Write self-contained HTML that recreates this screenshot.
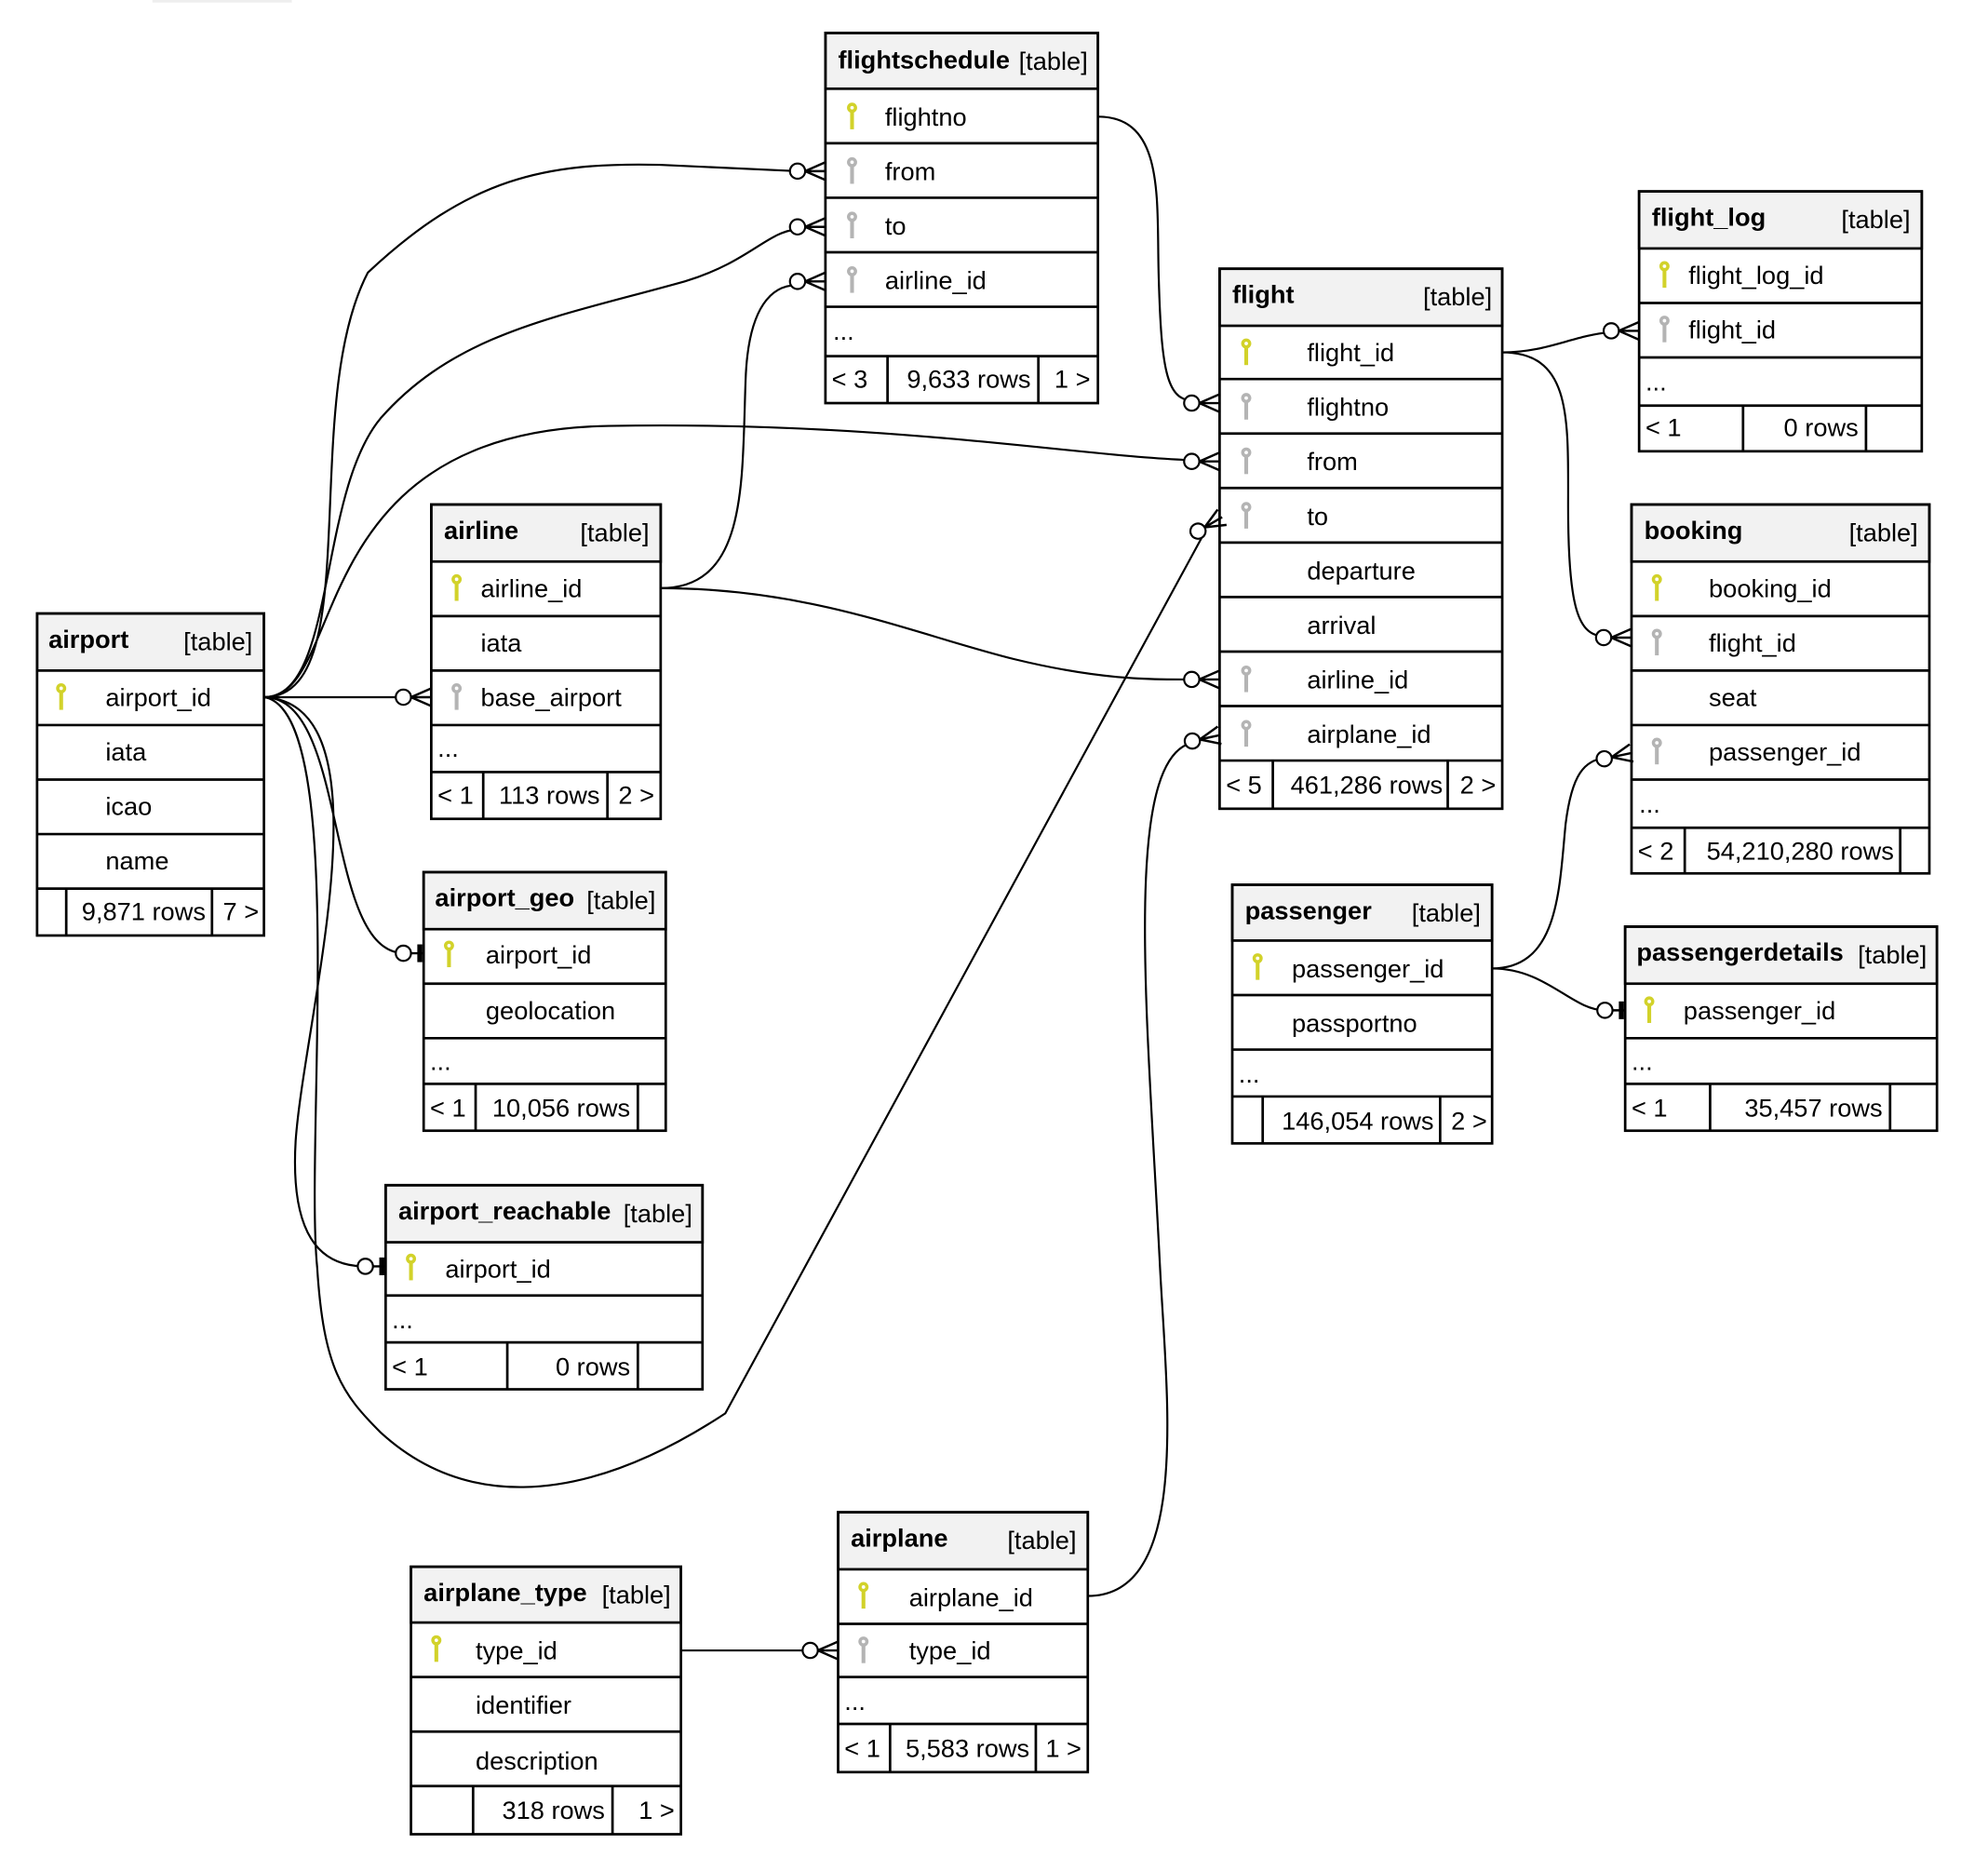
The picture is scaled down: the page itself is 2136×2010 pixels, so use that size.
<!DOCTYPE html>
<html><head><meta charset="utf-8"><style>
html,body{margin:0;padding:0;background:#fff;}
svg{display:block;}
text{font-family:"Liberation Sans",Arial,sans-serif;font-size:20px;fill:#000;}
.h{font-weight:bold;}
.t{fill:none;stroke:#000;stroke-width:2;}
.hd{fill:#f2f2f2;stroke:#000;stroke-width:2;}
.ln{stroke:#000;stroke-width:2;}
.c{fill:none;stroke:#000;stroke-width:1.6;}
</style></head><body>
<svg width="2136" height="2010" viewBox="0 0 1568 1476" xmlns="http://www.w3.org/2000/svg">
<defs>
<g id="ky"><circle cx="0" cy="-7" r="4"/><rect x="-1.5" y="-4" width="3" height="14"/><circle cx="0" cy="-7" r="1.4" fill="#fff"/></g>
<g id="cf"><line x1="-16" y1="0" x2="0" y2="-7" stroke="#000" stroke-width="1.8"/><line x1="-16" y1="0" x2="0" y2="0" stroke="#000" stroke-width="1.8"/><line x1="-16" y1="0" x2="0" y2="7" stroke="#000" stroke-width="1.8"/><circle cx="-22" cy="0" r="6" fill="#fff" stroke="#000" stroke-width="1.6"/></g>
<g id="one"><line x1="-16" y1="0" x2="0" y2="0" stroke="#000" stroke-width="1.8"/><rect x="-5" y="-7" width="4" height="14" fill="#000"/><circle cx="-16" cy="0" r="6" fill="#fff" stroke="#000" stroke-width="1.6"/></g>
</defs>
<rect x="120" y="0" width="110" height="2" fill="#eee"/>

<!-- connectors -->
<path class="c" d="M208,550 C290,550 235,320 290,215 C370,140 430,128 520,130 L628,135"/>
<path class="c" d="M208,550 C265,550 250,390 300,330 C360,262 440,250 540,222 C590,207 605,183 628,181"/>
<path class="c" d="M521,464 C590,464 585,380 588,300 C590,240 610,225 628,225"/>
<path class="c" d="M208,550 C275,550 235,340 480,336 C700,332 850,360 940,363"/>
<path class="c" d="M208,550 C275,560 240,900 250,1000 C255,1080 270,1100 300,1130 C360,1185 450,1195 572,1115 L948,424"/>
<line class="c" x1="208" y1="550" x2="320" y2="550"/>
<path class="c" d="M208,550 C275,550 255,750 318,752"/>
<path class="c" d="M208,550 C310,555 240,800 233,900 C228,985 260,999 288,999"/>
<path class="c" d="M866,92 C920,92 912,160 914,220 C916,290 920,315 940,316"/>
<path class="c" d="M521,464 C640,464 720,500 800,520 C870,537 910,536 940,536"/>
<path class="c" d="M1185,278 C1220,278 1240,265 1270,262"/>
<path class="c" d="M1185,278 C1240,278 1237,330 1237,400 C1237,480 1245,502 1266,502"/>
<path class="c" d="M858,1259 C940,1259 920,1100 915,1000 C905,800 885,600 940,586"/>
<path class="c" d="M1177,764 C1230,764 1230,700 1235,650 C1240,610 1250,600 1266,598"/>
<path class="c" d="M1177,764 C1220,764 1240,797 1266,797"/>
<line class="c" x1="537" y1="1302" x2="640" y2="1302"/>

<use href="#cf" x="651" y="135"/>
<use href="#cf" x="651" y="179"/>
<use href="#cf" x="651" y="222"/>
<use href="#cf" x="962" y="364"/>
<use href="#cf" transform="translate(964,408) rotate(-30)"/>
<use href="#cf" x="340" y="550"/>
<use href="#one" x="334" y="752"/>
<use href="#one" x="304" y="999"/>
<use href="#cf" x="962" y="318"/>
<use href="#cf" x="962" y="536"/>
<use href="#cf" x="1293" y="261"/>
<use href="#cf" x="1287" y="503"/>
<use href="#cf" transform="translate(962,580) rotate(-12)"/>
<use href="#cf" transform="translate(1287,594) rotate(-12)"/>
<use href="#one" x="1282" y="797"/>
<use href="#cf" x="661" y="1302"/>

<!-- flightschedule -->
<rect class="hd" x="651" y="26" width="215" height="44"/>
<rect class="t" x="651" y="26" width="215" height="292"/>
<line class="ln" x1="651" y1="113" x2="866" y2="113"/><line class="ln" x1="651" y1="156" x2="866" y2="156"/><line class="ln" x1="651" y1="199" x2="866" y2="199"/><line class="ln" x1="651" y1="242" x2="866" y2="242"/><line class="ln" x1="651" y1="281" x2="866" y2="281"/>
<line class="ln" x1="700" y1="281" x2="700" y2="318"/><line class="ln" x1="819" y1="281" x2="819" y2="318"/>
<text class="h" x="661" y="54">flightschedule</text><text x="858" y="55" text-anchor="end">[table]</text>
<use href="#ky" x="672" y="92" fill="#d2d22a"/><text x="698" y="99">flightno</text>
<use href="#ky" x="672" y="135" fill="#b4b4b4"/><text x="698" y="142">from</text>
<use href="#ky" x="672" y="178" fill="#b4b4b4"/><text x="698" y="185">to</text>
<use href="#ky" x="672" y="221" fill="#b4b4b4"/><text x="698" y="228">airline_id</text>
<text x="657" y="268">...</text>
<text x="656" y="306">&lt; 3</text><text x="813" y="306" text-anchor="end">9,633 rows</text><text x="860" y="306" text-anchor="end">1 &gt;</text>

<!-- flight -->
<rect class="hd" x="962" y="212" width="223" height="45"/>
<rect class="t" x="962" y="212" width="223" height="426"/>
<line class="ln" x1="962" y1="299" x2="1185" y2="299"/><line class="ln" x1="962" y1="342" x2="1185" y2="342"/><line class="ln" x1="962" y1="385" x2="1185" y2="385"/><line class="ln" x1="962" y1="428" x2="1185" y2="428"/><line class="ln" x1="962" y1="471" x2="1185" y2="471"/><line class="ln" x1="962" y1="514" x2="1185" y2="514"/><line class="ln" x1="962" y1="557" x2="1185" y2="557"/><line class="ln" x1="962" y1="600" x2="1185" y2="600"/>
<line class="ln" x1="1004" y1="600" x2="1004" y2="638"/><line class="ln" x1="1142" y1="600" x2="1142" y2="638"/>
<text class="h" x="972" y="239">flight</text><text x="1177" y="241" text-anchor="end">[table]</text>
<use href="#ky" x="983" y="278" fill="#d2d22a"/><text x="1031" y="285">flight_id</text>
<use href="#ky" x="983" y="321" fill="#b4b4b4"/><text x="1031" y="328">flightno</text>
<use href="#ky" x="983" y="364" fill="#b4b4b4"/><text x="1031" y="371">from</text>
<use href="#ky" x="983" y="407" fill="#b4b4b4"/><text x="1031" y="414">to</text>
<text x="1031" y="457">departure</text>
<text x="1031" y="500">arrival</text>
<use href="#ky" x="983" y="536" fill="#b4b4b4"/><text x="1031" y="543">airline_id</text>
<use href="#ky" x="983" y="579" fill="#b4b4b4"/><text x="1031" y="586">airplane_id</text>
<text x="967" y="626">&lt; 5</text><text x="1138" y="626" text-anchor="end">461,286 rows</text><text x="1180" y="626" text-anchor="end">2 &gt;</text>

<!-- flight_log -->
<rect class="hd" x="1293" y="151" width="223" height="45"/>
<rect class="t" x="1293" y="151" width="223" height="205"/>
<line class="ln" x1="1293" y1="239" x2="1516" y2="239"/><line class="ln" x1="1293" y1="282" x2="1516" y2="282"/><line class="ln" x1="1293" y1="320" x2="1516" y2="320"/>
<line class="ln" x1="1375" y1="320" x2="1375" y2="356"/><line class="ln" x1="1472" y1="320" x2="1472" y2="356"/>
<text class="h" x="1303" y="178">flight_log</text><text x="1507" y="180" text-anchor="end">[table]</text>
<use href="#ky" x="1313" y="217" fill="#d2d22a"/><text x="1332" y="224">flight_log_id</text>
<use href="#ky" x="1313" y="260" fill="#b4b4b4"/><text x="1332" y="267">flight_id</text>
<text x="1298" y="308">...</text>
<text x="1298" y="344">&lt; 1</text><text x="1466" y="344" text-anchor="end">0 rows</text>

<!-- booking -->
<rect class="hd" x="1287" y="398" width="235" height="45"/>
<rect class="t" x="1287" y="398" width="235" height="291"/>
<line class="ln" x1="1287" y1="486" x2="1522" y2="486"/><line class="ln" x1="1287" y1="529" x2="1522" y2="529"/><line class="ln" x1="1287" y1="572" x2="1522" y2="572"/><line class="ln" x1="1287" y1="615" x2="1522" y2="615"/><line class="ln" x1="1287" y1="653" x2="1522" y2="653"/>
<line class="ln" x1="1329" y1="653" x2="1329" y2="689"/><line class="ln" x1="1499" y1="653" x2="1499" y2="689"/>
<text class="h" x="1297" y="425">booking</text><text x="1513" y="427" text-anchor="end">[table]</text>
<use href="#ky" x="1307" y="464" fill="#d2d22a"/><text x="1348" y="471">booking_id</text>
<use href="#ky" x="1307" y="507" fill="#b4b4b4"/><text x="1348" y="514">flight_id</text>
<text x="1348" y="557">seat</text>
<use href="#ky" x="1307" y="593" fill="#b4b4b4"/><text x="1348" y="600">passenger_id</text>
<text x="1293" y="641">...</text>
<text x="1292" y="678">&lt; 2</text><text x="1494" y="678" text-anchor="end">54,210,280 rows</text>

<!-- airline -->
<rect class="hd" x="340" y="398" width="181" height="45"/>
<rect class="t" x="340" y="398" width="181" height="248"/>
<line class="ln" x1="340" y1="486" x2="521" y2="486"/><line class="ln" x1="340" y1="529" x2="521" y2="529"/><line class="ln" x1="340" y1="572" x2="521" y2="572"/><line class="ln" x1="340" y1="609" x2="521" y2="609"/>
<line class="ln" x1="381" y1="609" x2="381" y2="646"/><line class="ln" x1="479" y1="609" x2="479" y2="646"/>
<text class="h" x="350" y="425">airline</text><text x="512" y="427" text-anchor="end">[table]</text>
<use href="#ky" x="360" y="464" fill="#d2d22a"/><text x="379" y="471">airline_id</text>
<text x="379" y="514">iata</text>
<use href="#ky" x="360" y="550" fill="#b4b4b4"/><text x="379" y="557">base_airport</text>
<text x="345" y="597">...</text>
<text x="345" y="634">&lt; 1</text><text x="473" y="634" text-anchor="end">113 rows</text><text x="516" y="634" text-anchor="end">2 &gt;</text>

<!-- airport -->
<rect class="hd" x="29" y="484" width="179" height="45"/>
<rect class="t" x="29" y="484" width="179" height="254"/>
<line class="ln" x1="29" y1="572" x2="208" y2="572"/><line class="ln" x1="29" y1="615" x2="208" y2="615"/><line class="ln" x1="29" y1="658" x2="208" y2="658"/><line class="ln" x1="29" y1="701" x2="208" y2="701"/>
<line class="ln" x1="52" y1="701" x2="52" y2="738"/><line class="ln" x1="167" y1="701" x2="167" y2="738"/>
<text class="h" x="38" y="511">airport</text><text x="199" y="513" text-anchor="end">[table]</text>
<use href="#ky" x="48" y="550" fill="#d2d22a"/><text x="83" y="557">airport_id</text>
<text x="83" y="600">iata</text>
<text x="83" y="643">icao</text>
<text x="83" y="686">name</text>
<text x="162" y="726" text-anchor="end">9,871 rows</text><text x="204" y="726" text-anchor="end">7 &gt;</text>

<!-- airport_geo -->
<rect class="hd" x="334" y="688" width="191" height="45"/>
<rect class="t" x="334" y="688" width="191" height="204"/>
<line class="ln" x1="334" y1="776" x2="525" y2="776"/><line class="ln" x1="334" y1="819" x2="525" y2="819"/><line class="ln" x1="334" y1="855" x2="525" y2="855"/>
<line class="ln" x1="375" y1="855" x2="375" y2="892"/><line class="ln" x1="503" y1="855" x2="503" y2="892"/>
<text class="h" x="343" y="715">airport_geo</text><text x="517" y="717" text-anchor="end">[table]</text>
<use href="#ky" x="354" y="753" fill="#d2d22a"/><text x="383" y="760">airport_id</text>
<text x="383" y="804">geolocation</text>
<text x="339" y="844">...</text>
<text x="339" y="881">&lt; 1</text><text x="497" y="881" text-anchor="end">10,056 rows</text>

<!-- airport_reachable -->
<rect class="hd" x="304" y="935" width="250" height="45"/>
<rect class="t" x="304" y="935" width="250" height="161"/>
<line class="ln" x1="304" y1="1022" x2="554" y2="1022"/><line class="ln" x1="304" y1="1059" x2="554" y2="1059"/>
<line class="ln" x1="400" y1="1059" x2="400" y2="1096"/><line class="ln" x1="503" y1="1059" x2="503" y2="1096"/>
<text class="h" x="314" y="962">airport_reachable</text><text x="546" y="964" text-anchor="end">[table]</text>
<use href="#ky" x="324" y="1000" fill="#d2d22a"/><text x="351" y="1008">airport_id</text>
<text x="309" y="1048">...</text>
<text x="309" y="1085">&lt; 1</text><text x="497" y="1085" text-anchor="end">0 rows</text>

<!-- passenger -->
<rect class="hd" x="972" y="698" width="205" height="44"/>
<rect class="t" x="972" y="698" width="205" height="204"/>
<line class="ln" x1="972" y1="785" x2="1177" y2="785"/><line class="ln" x1="972" y1="828" x2="1177" y2="828"/><line class="ln" x1="972" y1="865" x2="1177" y2="865"/>
<line class="ln" x1="996" y1="865" x2="996" y2="902"/><line class="ln" x1="1136" y1="865" x2="1136" y2="902"/>
<text class="h" x="982" y="725">passenger</text><text x="1168" y="727" text-anchor="end">[table]</text>
<use href="#ky" x="992" y="763" fill="#d2d22a"/><text x="1019" y="771">passenger_id</text>
<text x="1019" y="814">passportno</text>
<text x="977" y="854">...</text>
<text x="1131" y="891" text-anchor="end">146,054 rows</text><text x="1173" y="891" text-anchor="end">2 &gt;</text>

<!-- passengerdetails -->
<rect class="hd" x="1282" y="731" width="246" height="45"/>
<rect class="t" x="1282" y="731" width="246" height="161"/>
<line class="ln" x1="1282" y1="819" x2="1528" y2="819"/><line class="ln" x1="1282" y1="855" x2="1528" y2="855"/>
<line class="ln" x1="1349" y1="855" x2="1349" y2="892"/><line class="ln" x1="1491" y1="855" x2="1491" y2="892"/>
<text class="h" x="1291" y="758">passengerdetails</text><text x="1520" y="760" text-anchor="end">[table]</text>
<use href="#ky" x="1301" y="797" fill="#d2d22a"/><text x="1328" y="804">passenger_id</text>
<text x="1287" y="844">...</text>
<text x="1287" y="881">&lt; 1</text><text x="1485" y="881" text-anchor="end">35,457 rows</text>

<!-- airplane -->
<rect class="hd" x="661" y="1193" width="197" height="45"/>
<rect class="t" x="661" y="1193" width="197" height="205"/>
<line class="ln" x1="661" y1="1281" x2="858" y2="1281"/><line class="ln" x1="661" y1="1323" x2="858" y2="1323"/><line class="ln" x1="661" y1="1360" x2="858" y2="1360"/>
<line class="ln" x1="702" y1="1360" x2="702" y2="1398"/><line class="ln" x1="817" y1="1360" x2="817" y2="1398"/>
<text class="h" x="671" y="1220">airplane</text><text x="849" y="1222" text-anchor="end">[table]</text>
<use href="#ky" x="681" y="1259" fill="#d2d22a"/><text x="717" y="1267">airplane_id</text>
<use href="#ky" x="681" y="1302" fill="#b4b4b4"/><text x="717" y="1309">type_id</text>
<text x="666" y="1349">...</text>
<text x="666" y="1386">&lt; 1</text><text x="812" y="1386" text-anchor="end">5,583 rows</text><text x="853" y="1386" text-anchor="end">1 &gt;</text>

<!-- airplane_type -->
<rect class="hd" x="324" y="1236" width="213" height="44"/>
<rect class="t" x="324" y="1236" width="213" height="211"/>
<line class="ln" x1="324" y1="1323" x2="537" y2="1323"/><line class="ln" x1="324" y1="1366" x2="537" y2="1366"/><line class="ln" x1="324" y1="1409" x2="537" y2="1409"/>
<line class="ln" x1="373" y1="1409" x2="373" y2="1447"/><line class="ln" x1="483" y1="1409" x2="483" y2="1447"/>
<text class="h" x="334" y="1263">airplane_type</text><text x="529" y="1265" text-anchor="end">[table]</text>
<use href="#ky" x="344" y="1301" fill="#d2d22a"/><text x="375" y="1309">type_id</text>
<text x="375" y="1352">identifier</text>
<text x="375" y="1396">description</text>
<text x="477" y="1435" text-anchor="end">318 rows</text><text x="532" y="1435" text-anchor="end">1 &gt;</text>
</svg>
</body></html>
